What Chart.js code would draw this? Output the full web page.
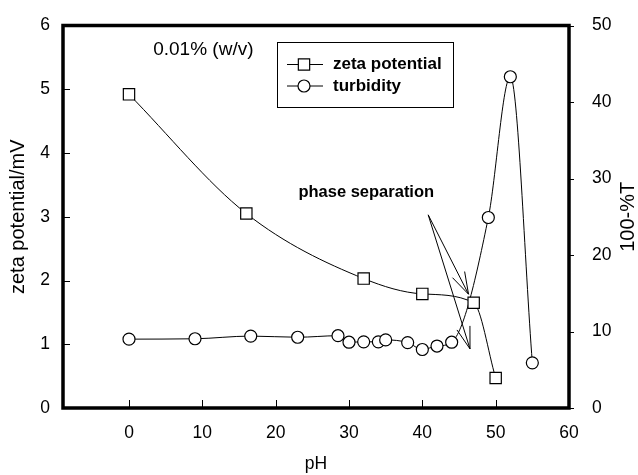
<!DOCTYPE html>
<html>
<head>
<meta charset="utf-8">
<script src="https://cdn.jsdelivr.net/npm/chart.js@4.4.0/dist/chart.umd.min.js"></script>
<style>
  html, body { margin: 0; padding: 0; background: #fff; }
  #wrap { width: 638px; height: 475px; }
</style>
</head>
<body>
<div id="wrap"><canvas id="chart" width="638" height="475"></canvas></div>
<script>
// datos
const zetaPH = [0, 16, 32, 40, 47, 50];
const zetaMV = [4.92, 3.05, 2.03, 1.79, 1.65, 0.47];
const turbPH = [0, 9, 16.6, 23, 28.5, 30, 32, 34, 35, 38, 40, 42, 44, 49, 52, 55];
const turbT = [9.0, 9.05, 9.4, 9.25, 9.45, 8.6, 8.65, 8.65, 8.9, 8.55, 7.65, 8.1, 8.6, 24.9, 43.3, 5.9];
const xTicks = [0, 10, 20, 30, 40, 50, 60];
const yTicks = [0, 1, 2, 3, 4, 5, 6];
const y2Ticks = [0, 10, 20, 30, 40, 50];

// anotaciones (en unidades del eje izquierdo)
const noteText = "0.01% (w/v)";
const noteAt = { x: 3.3, y: 5.62 };
const phaseText = "phase separation";
const phaseAt = { x: 23.1, y: 3.38 };
const arrowFrom = { x: 40.8, y: 3.03 };
const arrowTips = [{ x: 46.3, y: 1.785 }, { x: 46.5, y: 0.927 }];

const FONT = "'Liberation Sans', Arial, sans-serif";
Chart.defaults.font.family = FONT;
Chart.defaults.color = "#000";

const toPoints = (xs, ys) => xs.map((x, i) => ({ x, y: ys[i] }));

const frame = {
  id: "frame",
  afterDraw(chart) {
    const { ctx, chartArea: a, scales } = chart;
    const { x, y, y2 } = scales;
    ctx.save();
    ctx.strokeStyle = "#000";

    // ticks
    ctx.lineWidth = 1;
    ctx.beginPath();
    xTicks.forEach(v => {
      const px = Math.round(x.getPixelForValue(v)) + 0.5;
      ctx.moveTo(px, a.bottom); ctx.lineTo(px, a.bottom - 8);
    });
    yTicks.forEach(v => {
      const py = Math.round(y.getPixelForValue(v)) + 0.5;
      ctx.moveTo(a.left, py); ctx.lineTo(a.left + 7, py);
    });
    y2Ticks.forEach(v => {
      const py = Math.round(y2.getPixelForValue(v)) + 0.5;
      ctx.moveTo(a.right, py); ctx.lineTo(a.right + 5, py);
    });
    ctx.stroke();

    // marco grueso
    ctx.lineWidth = 3.5;
    ctx.strokeRect(a.left, a.top, a.right - a.left, a.bottom - a.top);

    // título eje derecho (de abajo hacia arriba)
    ctx.fillStyle = "#000";
    ctx.font = "20px " + FONT;
    ctx.textAlign = "center";
    ctx.textBaseline = "middle";
    ctx.translate(628, (a.top + a.bottom) / 2);
    ctx.rotate(-Math.PI / 2);
    ctx.fillText("100-%T", 0, 0);
    ctx.setTransform(1, 0, 0, 1, 0, 0);

    // textos
    ctx.textAlign = "left";
    ctx.font = "19px " + FONT;
    ctx.fillText(noteText, x.getPixelForValue(noteAt.x), y.getPixelForValue(noteAt.y));
    ctx.font = "bold 16.5px " + FONT;
    ctx.fillText(phaseText, x.getPixelForValue(phaseAt.x), y.getPixelForValue(phaseAt.y));

    // flechas
    ctx.lineWidth = 1;
    const fx = x.getPixelForValue(arrowFrom.x), fy = y.getPixelForValue(arrowFrom.y);
    arrowTips.forEach(t => {
      const tx = x.getPixelForValue(t.x), ty = y.getPixelForValue(t.y);
      const ang = Math.atan2(fy - ty, fx - tx);
      ctx.beginPath();
      ctx.moveTo(fx, fy); ctx.lineTo(tx, ty);
      [-0.3, 0.3].forEach(d => {
        ctx.moveTo(tx, ty);
        ctx.lineTo(tx + 23 * Math.cos(ang + d), ty + 23 * Math.sin(ang + d));
      });
      ctx.stroke();
    });

    // leyenda
    const lx = a.left + 214, ly = a.top + 16.5;
    ctx.lineWidth = 1;
    ctx.strokeRect(lx + 0.5, ly + 0.5, 176, 65);
    ctx.font = "bold 17px " + FONT;
    chart.data.datasets.forEach((ds, i) => {
      const ry = ly + 22.5 + i * 21.5;
      ctx.beginPath();
      ctx.moveTo(lx + 10, ry); ctx.lineTo(lx + 46, ry);
      ctx.stroke();
      ctx.fillStyle = "#fff";
      ctx.lineWidth = 1.2;
      ctx.beginPath();
      if (ds.pointStyle === "rect") {
        const s = ds.pointRadius * Math.SQRT1_2;
        ctx.rect(lx + 27 - s, ry - s, 2 * s, 2 * s);
      } else {
        ctx.arc(lx + 27, ry, ds.pointRadius, 0, Math.PI * 2);
      }
      ctx.fill(); ctx.stroke();
      ctx.lineWidth = 1;
      ctx.fillStyle = "#000";
      ctx.fillText(ds.label, lx + 56, ry);
    });
    ctx.restore();
  }
};

new Chart(document.getElementById("chart"), {
  type: "line",
  data: {
    datasets: [
      {
        label: "zeta potential",
        data: toPoints(zetaPH, zetaMV),
        yAxisID: "y",
        borderColor: "#000",
        borderWidth: 1,
        pointStyle: "rect",
        pointRadius: 8,
        pointBackgroundColor: "#fff",
        pointBorderColor: "#000",
        pointBorderWidth: 1.2,
        cubicInterpolationMode: "monotone"
      },
      {
        label: "turbidity",
        data: toPoints(turbPH, turbT),
        yAxisID: "y2",
        borderColor: "#000",
        borderWidth: 1,
        pointStyle: "circle",
        pointRadius: 6,
        pointBackgroundColor: "#fff",
        pointBorderColor: "#000",
        pointBorderWidth: 1.2,
        cubicInterpolationMode: "monotone"
      }
    ]
  },
  options: {
    responsive: false,
    animation: false,
    devicePixelRatio: 1,
    layout: { padding: { top: 23, left: 0, right: 0, bottom: 0 } },
    plugins: { legend: { display: false }, tooltip: { enabled: false } },
    scales: {
      x: {
        type: "linear",
        min: -9,
        max: 60,
        afterBuildTicks: s => { s.ticks = xTicks.map(v => ({ value: v })); },
        afterFit: s => { s.height = 67; },
        grid: { display: false },
        border: { display: false },
        ticks: { font: { size: 17.5 }, padding: 7, maxRotation: 0 },
        title: { display: true, text: "pH", font: { size: 17.5, lineHeight: 1.2 }, padding: 0 }
      },
      y: {
        position: "left",
        min: 0,
        max: 6,
        afterBuildTicks: s => { s.ticks = yTicks.map(v => ({ value: v })); },
        afterFit: s => { s.width = 63; },
        grid: { display: false },
        border: { display: false },
        ticks: { font: { size: 17.5 }, padding: 5 },
        title: { display: true, text: "zeta potential/mV", font: { size: 20, lineHeight: 1 }, padding: { top: 8 } }
      },
      y2: {
        position: "right",
        min: 0,
        max: 50,
        afterBuildTicks: s => { s.ticks = y2Ticks.map(v => ({ value: v })); },
        afterFit: s => { s.width = 69; },
        grid: { display: false },
        border: { display: false },
        ticks: { font: { size: 17.5 }, padding: 15 }
      }
    }
  },
  plugins: [frame]
});
</script>
</body>
</html>
